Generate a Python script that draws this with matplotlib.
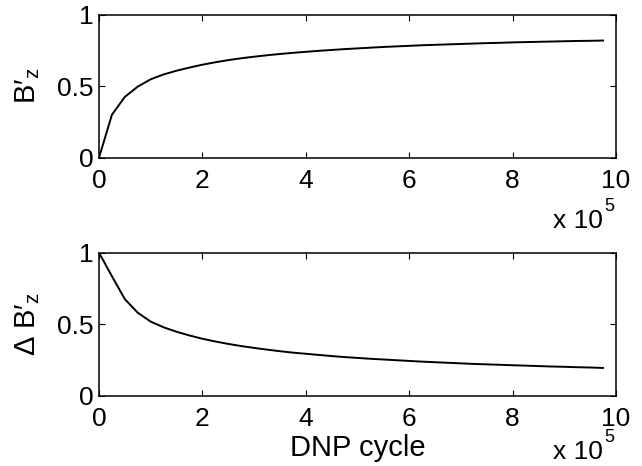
import numpy as np
import matplotlib
matplotlib.use("Agg")
import matplotlib.pyplot as plt
from matplotlib.ticker import FuncFormatter

plt.rcParams['font.family'] = ['Liberation Sans', 'DejaVu Sans']
plt.rcParams['mathtext.fontset'] = 'custom'
plt.rcParams['mathtext.rm'] = 'Liberation Sans'
plt.rcParams['mathtext.it'] = 'Liberation Sans'

# DNP cycles (one point every 25000 cycles)
cycles = np.arange(0, 1000000, 25000)

# normalised polarisation B'_z (top panel)
bz = [0.0, 0.300, 0.425, 0.497, 0.548, 0.582, 0.608, 0.630, 0.650, 0.667,
      0.682, 0.695, 0.706, 0.716, 0.725, 0.733, 0.740, 0.747, 0.753, 0.759,
      0.764, 0.769, 0.774, 0.778, 0.782, 0.786, 0.789, 0.792, 0.795, 0.798,
      0.801, 0.803, 0.806, 0.808, 0.810, 0.812, 0.814, 0.816, 0.817, 0.819]

# delta B'_z (bottom panel)
dbz = [1.0, 0.835, 0.675, 0.580, 0.518, 0.478, 0.447, 0.421, 0.398, 0.379,
       0.362, 0.347, 0.334, 0.322, 0.311, 0.301, 0.293, 0.285, 0.277, 0.270,
       0.264, 0.258, 0.253, 0.248, 0.243, 0.238, 0.234, 0.230, 0.226, 0.222,
       0.219, 0.216, 0.213, 0.210, 0.207, 0.204, 0.202, 0.199, 0.197, 0.194]

xticks = [0, 200000, 400000, 600000, 800000, 1000000]
yticks = [0, 0.5, 1]

fig = plt.figure(figsize=(6.42, 4.66), dpi=100)
ax1 = fig.add_axes([0.1542, 0.6616, 0.8053, 0.307])
ax2 = fig.add_axes([0.1542, 0.1509, 0.8053, 0.3069])

fmt_x = FuncFormatter(lambda v, p: '%g' % (v / 1e5))
fmt_y = FuncFormatter(lambda v, p: '%g' % v)

for ax, y, lab, off in [(ax1, bz, "B′$_{\\mathregular{z}}$", -0.49),
                        (ax2, dbz, "Δ B′$_{\\mathregular{z}}$", -0.445)]:
    ax.plot(cycles, y, color='black', lw=1.4)
    ax.set_xlim(0, 1000000)
    ax.set_ylim(0, 1)
    ax.set_xticks(xticks)
    ax.set_yticks(yticks)
    ax.xaxis.set_major_formatter(fmt_x)
    ax.yaxis.set_major_formatter(fmt_y)
    ax.tick_params(direction='in', length=4, width=0.8, labelsize=19,
                   top=True, right=True, pad=4)
    ax.tick_params(axis='x', pad=8)
    for s in ax.spines.values():
        s.set_linewidth(1.1)
    ax.set_ylabel(lab, fontsize=21, labelpad=11)
    # offset multiplier written the MATLAB way
    ax.text(0.9754, off, "x 10", transform=ax.transAxes,
            ha='right', va='baseline', fontsize=19)
    ax.text(0.977, off + 0.12, "5", transform=ax.transAxes,
            ha='left', va='baseline', fontsize=13)

ax2.set_xlabel("DNP cycle", fontsize=21, labelpad=2)

fig.savefig("out.png", dpi=100)
